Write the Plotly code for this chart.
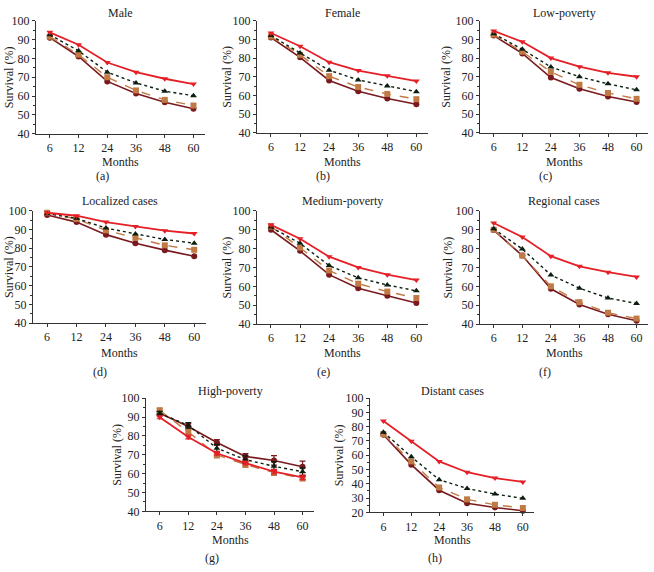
import plotly.graph_objects as go

months = ["6", "12", "24", "36", "48", "60"]

panel_titles = ["Male", "Female", "Low-poverty", "Localized cases", "Medium-poverty",
                "Regional cases", "High-poverty", "Distant cases"]
panel_tags = ["(a)", "(b)", "(c)", "(d)", "(e)", "(f)", "(g)", "(h)"]

# series per panel: red (down-triangle), black dotted (up-triangle), orange dashed (square), dark red (circle)
male_red = [93.8, 87.2, 77.8, 72.7, 69.2, 66.4]
male_black = [92.5, 84.0, 72.7, 67.0, 62.6, 60.2]
male_orange = [91.5, 82.0, 70.0, 63.0, 58.0, 55.0]
male_dark = [91.0, 81.0, 67.8, 61.4, 56.7, 53.3]

female_red = [93.4, 86.3, 77.8, 73.3, 70.5, 67.7]
female_black = [92.0, 82.7, 73.5, 68.3, 65.0, 62.0]
female_orange = [91.5, 81.7, 70.3, 64.5, 60.8, 58.0]
female_dark = [91.0, 80.4, 68.0, 62.2, 58.4, 55.3]

lowpov_red = [94.5, 88.7, 80.0, 75.4, 72.1, 70.0]
lowpov_black = [93.0, 84.7, 75.2, 70.0, 66.2, 63.0]
lowpov_orange = [92.5, 83.4, 72.6, 65.7, 61.3, 58.2]
lowpov_dark = [92.0, 82.5, 69.6, 63.6, 59.4, 56.5]

local_red = [99.0, 97.4, 94.0, 91.7, 89.4, 87.9]
local_black = [98.5, 96.0, 90.8, 87.7, 84.7, 82.7]
local_orange = [99.0, 95.7, 89.6, 85.6, 81.6, 79.2]
local_dark = [97.8, 94.0, 87.3, 82.7, 79.0, 75.7]

medpov_red = [92.6, 85.2, 75.7, 70.0, 66.2, 63.3]
medpov_black = [91.4, 82.8, 71.0, 64.5, 60.7, 57.6]
medpov_orange = [91.7, 80.5, 68.4, 61.4, 57.2, 53.8]
medpov_dark = [90.0, 78.8, 66.2, 59.0, 55.0, 51.2]

regional_red = [93.6, 86.2, 76.0, 70.6, 67.5, 65.0]
regional_black = [90.5, 79.8, 66.0, 59.0, 53.8, 50.9]
regional_orange = [90.0, 76.3, 60.0, 51.6, 46.0, 42.9]
regional_dark = [89.8, 76.3, 58.7, 50.4, 45.2, 41.7]

highpov_red = [89.9, 79.4, 70.8, 65.6, 61.1, 58.0]
highpov_black = [92.0, 85.6, 73.5, 67.4, 63.9, 61.0]
highpov_orange = [93.6, 82.1, 69.9, 64.8, 60.5, 57.6]
highpov_dark = [92.0, 85.0, 76.5, 69.1, 67.0, 63.6]
highpov_red_err = [0.8, 1.0, 1.0, 1.0, 1.2, 1.2]
highpov_black_err = [1.0, 1.5, 2.0, 2.0, 2.5, 2.0]
highpov_orange_err = [1.0, 1.5, 1.5, 1.5, 1.5, 1.5]
highpov_dark_err = [1.0, 1.5, 1.5, 1.5, 2.5, 3.0]

distant_red = [84.0, 69.8, 55.7, 48.1, 44.0, 41.3]
distant_black = [76.2, 58.9, 42.9, 36.7, 32.8, 29.8]
distant_orange = [74.9, 55.7, 37.4, 29.1, 25.3, 23.0]
distant_dark = [74.4, 53.4, 35.5, 26.4, 23.4, 21.1]

panels = [
    (male_red, male_black, male_orange, male_dark, None),
    (female_red, female_black, female_orange, female_dark, None),
    (lowpov_red, lowpov_black, lowpov_orange, lowpov_dark, None),
    (local_red, local_black, local_orange, local_dark, None),
    (medpov_red, medpov_black, medpov_orange, medpov_dark, None),
    (regional_red, regional_black, regional_orange, regional_dark, None),
    (highpov_red, highpov_black, highpov_orange, highpov_dark,
     (highpov_red_err, highpov_black_err, highpov_orange_err, highpov_dark_err)),
    (distant_red, distant_black, distant_orange, distant_dark, None),
]

y_ranges = [[40, 100]] * 7 + [[20, 100]]

W, H = 654, 572
# pixel boxes: left, right, top, bottom
boxes = [
    (36, 205, 14, 130), (257, 428, 14, 129), (480, 648, 14, 129),
    (33, 206, 209, 324), (257, 428, 209, 325), (480, 648, 209, 325),
    (146, 314, 401, 517), (370, 534, 401, 518),
]
title_y = [6, 6, 6, 199, 199, 199, 394, 394]
months_y = [159, 159, 159, 355, 355, 355, 546, 546]
surv_x = [9, 227, 446, 9, 227, 448, 117, 339]
tag_pos = [(102, 173), (323, 173), (545, 173), (100, 374), (323, 374), (545, 374), (212, 565), (435, 565)]

FONT = "Liberation Serif"
TXT = "#222222"
styles = [
    dict(color="#e51f26", dash="solid", symbol="triangle-down", width=1.8),
    dict(color="#0b1e10", dash="dot", symbol="triangle-up", width=1.4),
    dict(color="#c07a45", dash="dash", symbol="square", width=1.4),
    dict(color="#7a1a1e", dash="solid", symbol="circle", width=1.6),
]
draw_order = [3, 2, 1, 0]

fig = go.Figure()
annotations = []
for i, p in enumerate(panels):
    idx = "" if i == 0 else str(i + 1)
    xa, ya = "x" + idx, "y" + idx
    series = p[:4]
    errs = p[4]
    for s in draw_order:
        st = styles[s]
        tr = go.Scatter(
            x=months, y=series[s], xaxis=xa, yaxis=ya, mode="lines+markers",
            line=dict(color=st["color"], dash=st["dash"], width=st["width"]),
            marker=dict(symbol=st["symbol"], color=st["color"], size=6),
            showlegend=False, cliponaxis=False,
        )
        if errs is not None:
            tr.error_y = dict(type="data", array=errs[s], color=st["color"], thickness=1.2, width=3)
        fig.add_trace(tr)
    l, r, t, b = boxes[i]
    axis_common = dict(showline=True, linecolor="#333333", linewidth=1, ticks="outside",
                       ticklen=3, tickcolor="#333333", showgrid=False, zeroline=False,
                       tickfont=dict(family=FONT, size=12, color=TXT))
    fig.layout["xaxis" + idx] = dict(
        domain=[l / W, r / W], anchor=ya, type="category",
        categoryorder="array", categoryarray=months, range=[-0.48, 5.4], **axis_common)
    fig.layout["yaxis" + idx] = dict(
        domain=[1 - b / H, 1 - t / H], anchor=xa, range=y_ranges[i], dtick=10,
        minor=dict(dtick=5, ticks="outside", ticklen=2, tickcolor="#333333"),
        **axis_common)
    cx = (l + r) / 2 / W
    annotations.append(dict(text=panel_titles[i], x=cx, y=1 - title_y[i] / H, xref="paper", yref="paper",
                            showarrow=False, xanchor="center", yanchor="middle",
                            font=dict(family=FONT, size=12, color=TXT)))
    annotations.append(dict(text="Months", x=cx, y=1 - months_y[i] / H, xref="paper", yref="paper",
                            showarrow=False, xanchor="center", yanchor="middle",
                            font=dict(family=FONT, size=12, color=TXT)))
    annotations.append(dict(text="Survival (%)", x=surv_x[i] / W, y=1 - (t + b) / 2 / H, xref="paper",
                            yref="paper", showarrow=False, textangle=-90, xanchor="center",
                            yanchor="middle", font=dict(family=FONT, size=12, color=TXT)))
    annotations.append(dict(text=panel_tags[i], x=tag_pos[i][0] / W, y=1 - tag_pos[i][1] / H,
                            xref="paper", yref="paper", showarrow=False, xanchor="center",
                            yanchor="middle", font=dict(family=FONT, size=12, color=TXT)))

fig.update_layout(width=W, height=H, margin=dict(l=0, r=0, t=0, b=0),
                  paper_bgcolor="white", plot_bgcolor="white", annotations=annotations,
                  showlegend=False)
fig.write_html("out.html", config={"displayModeBar": False},
               post_script="document.body.style.margin='0';document.body.style.padding='0';"
                           "document.body.style.overflow='hidden';")
